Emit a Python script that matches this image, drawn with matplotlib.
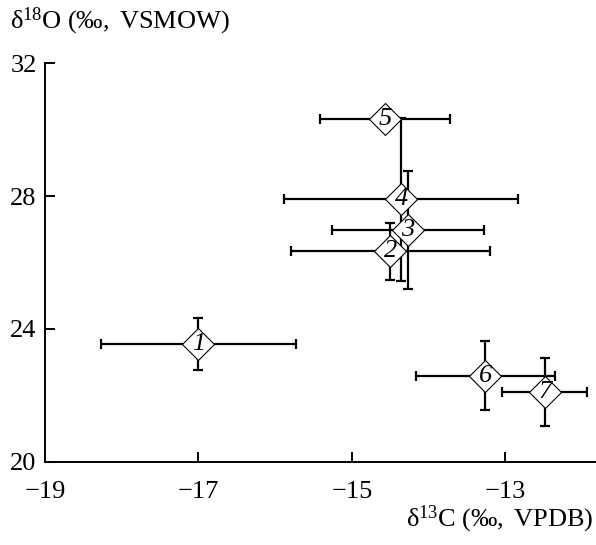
import matplotlib
matplotlib.use("Agg")
import matplotlib.pyplot as plt

plt.rcParams['font.family'] = ['Liberation Serif', 'DejaVu Serif']
plt.rcParams['mathtext.fontset'] = 'custom'
plt.rcParams['mathtext.rm'] = 'Liberation Serif'
plt.rcParams['mathtext.it'] = 'Liberation Serif:italic'

# sample numbers and isotope values (permil)
labels = ['1', '2', '3', '4', '5', '6', '7']
d13c = [-17.0, -14.50, -14.27, -14.36, -14.57, -13.26, -12.49]
d13c_err = [1.27, 1.30, 0.99, 1.53, 0.85, 0.90, 0.55]
d18o = [23.54, 26.33, 26.97, 27.90, 30.31, 22.59, 22.09]
d18o_err = [0.78, 0.85, 1.77, 2.45, 0.0, 1.03, 1.03]

xticks = [-19, -17, -15, -13]
yticks = [20, 24, 28, 32]

fig = plt.figure(figsize=(5.96, 5.45), dpi=100)
ax = fig.add_axes([0.0755, 0.153, 0.9245, 0.731])

ax.errorbar(d13c, d18o, xerr=d13c_err, yerr=d18o_err, fmt='none',
            ecolor='black', elinewidth=1.6, capsize=3.8, capthick=1.6, zorder=2)

for i in range(len(labels)):
    ax.plot(d13c[i], d18o[i], marker='D', markersize=16.5, markerfacecolor='white',
            markeredgecolor='black', markeredgewidth=0.8, linestyle='none', zorder=3 + i)
    ax.text(d13c[i], d18o[i], labels[i], ha='center', va='center', fontsize=19,
            style='italic', zorder=3 + i)

ax.set_xlim(-19, -11.82)
ax.set_ylim(20, 32)
ax.set_xticks(xticks)
ax.set_yticks(yticks)
ax.set_xticklabels(['\u2212' + str(abs(v)) for v in xticks])
ax.tick_params(direction='in', length=7, width=1.4, labelsize=19)
ax.tick_params(axis='x', pad=14)
ax.tick_params(axis='y', pad=6)
ax.spines['top'].set_visible(False)
ax.spines['right'].set_visible(False)
for s in ['left', 'bottom']:
    ax.spines[s].set_linewidth(1.4)

permil = '\u2030'
fig.text(0.017, 0.9486, r'$\mathrm{\delta^{18}O\ (}\mathit{' + permil + r'}\mathrm{,\ VSMOW)}$',
         fontsize=19, ha='left', va='baseline')
fig.text(0.996, 0.0349, r'$\mathrm{\delta^{13}C\ (}\mathit{' + permil + r'}\mathrm{,\ VPDB)}$',
         fontsize=19, ha='right', va='baseline')

fig.savefig('out.png', dpi=100)
